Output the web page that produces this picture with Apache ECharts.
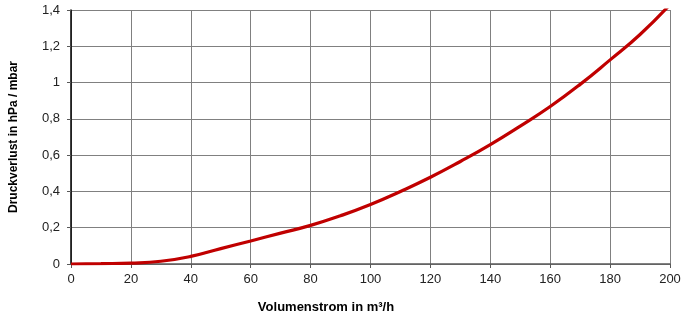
<!DOCTYPE html>
<html>
<head>
<meta charset="utf-8">
<script src="https://cdn.jsdelivr.net/npm/echarts@6/dist/echarts.min.js"></script>
<style>
  html, body { margin: 0; padding: 0; background: #ffffff; }
  #chart { width: 685px; height: 322px; }
</style>
</head>
<body>
<div id="chart"></div>
<script>
// Volumenstrom (m³/h) und Druckverlust (hPa / mbar)
var volumenstrom = [0, 10, 20, 30, 40, 50, 60, 70, 80, 90, 100, 110, 120, 130, 140, 150, 160, 170, 180, 190, 200];
var druckverlust = [0, 0.002, 0.005, 0.015, 0.042, 0.085, 0.127, 0.17, 0.213, 0.266, 0.328, 0.4, 0.478, 0.565, 0.658, 0.76, 0.868, 0.99, 1.125, 1.265, 1.43];

var xTicks = { min: 0, max: 200, interval: 20 };
var yTicks = { min: 0, max: 1.4, interval: 0.2 };

var myChart = echarts.init(document.getElementById("chart"));
var fontFam = "Liberation Sans, Arial, sans-serif";

var option = {
  backgroundColor: "#ffffff",
  animation: false,
  grid: { left: 71, right: 15, top: 10, bottom: 58, outerBoundsMode: "none" },
  xAxis: {
    type: "value",
    min: xTicks.min,
    max: xTicks.max,
    interval: xTicks.interval,
    name: "Volumenstrom in m³/h",
    nameLocation: "middle",
    nameGap: 37,
    nameTextStyle: { fontFamily: fontFam, fontSize: 13, fontWeight: "bold", color: "#000", padding: [0, 89, 0, 0] },
    axisLine: { show: true, lineStyle: { color: "#595959", width: 1.5 } },
    axisTick: { show: true, length: 4, lineStyle: { color: "#595959" } },
    axisLabel: { fontFamily: fontFam, fontSize: 13, color: "#222", margin: 9 },
    splitLine: { show: true, lineStyle: { color: "#808080", width: 1 } }
  },
  yAxis: {
    type: "value",
    min: yTicks.min,
    max: yTicks.max,
    interval: yTicks.interval,
    name: "Druckverlust in hPa / mbar",
    nameLocation: "middle",
    nameGap: 51,
    nameTextStyle: { fontFamily: fontFam, fontSize: 12, fontWeight: "bold", color: "#000" },
    axisLine: { show: true, lineStyle: { color: "#000", width: 1.5 } },
    axisTick: { show: true, length: 4, lineStyle: { color: "#595959" } },
    axisLabel: {
      fontFamily: fontFam, fontSize: 13, color: "#222", margin: 11,
      formatter: function (v) { return String(v).replace(".", ","); }
    },
    splitLine: { show: true, lineStyle: { color: "#808080", width: 1 } }
  },
  series: [
    {
      type: "line",
      data: volumenstrom.map(function (x, i) { return [x, druckverlust[i]]; }),
      smooth: true,
      showSymbol: false,
      clip: true,
      lineStyle: { color: "#C00000", width: 3.2 }
    }
  ]
};
myChart.setOption(option);
</script>
</body>
</html>
